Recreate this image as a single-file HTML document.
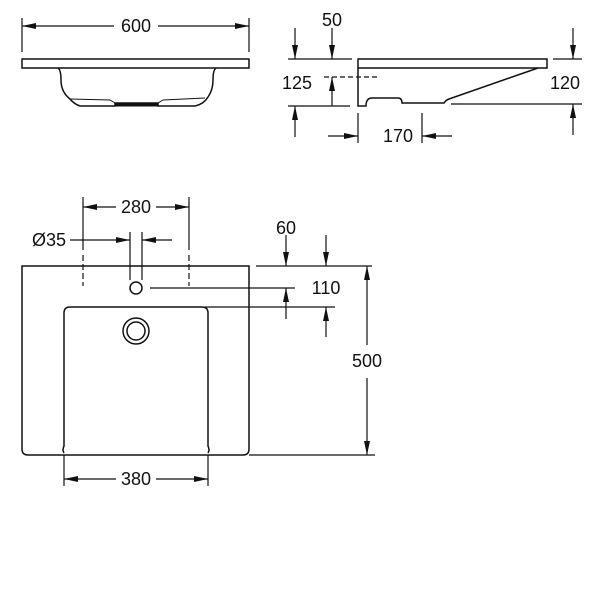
<!DOCTYPE html>
<html><head><style>body{margin:0;background:#fff}svg{display:block}text{font-family:"Liberation Sans",sans-serif;font-size:18px;fill:#111}</style></head><body>
<svg width="600" height="600" viewBox="0 0 600 600" xmlns="http://www.w3.org/2000/svg">
<defs><marker id="a" markerWidth="14" markerHeight="6" refX="14" refY="3" orient="auto" markerUnits="userSpaceOnUse"><path d="M0,0L14,3L0,6z" fill="#111"/></marker></defs>
<g stroke="#111" stroke-width="1.2" fill="none">
<line x1="22" y1="18" x2="22" y2="52"/><line x1="249" y1="18" x2="249" y2="52"/>
<line x1="114" y1="26" x2="22" y2="26" marker-end="url(#a)"/><line x1="158" y1="26" x2="249" y2="26" marker-end="url(#a)"/>
<rect x="22" y="59" width="227" height="9" stroke-width="1.5"/>
<path d="M58,68 Q61,70 61,80 Q61,92 70,99 Q74,104 80,106 L115,106 L115,103 L158,103 L158,106 L195,106 Q204,104 208,97 Q213,90 213,80 Q213,70 216,68" stroke-width="1.5"/>
<path d="M70,99 L110,100 L115,103 M158,103 L163,100 L205,98" stroke-width="1"/>
<line x1="115" y1="105" x2="158" y2="105" stroke-width="3"/>
<rect x="358" y="59" width="189" height="9" stroke-width="1.5"/>
<path d="M358,68 L358,106 L366,106 Q366,98 372,98 L398,98 Q402,98 402,103 L444,103 Q446,100 449,99 L538,68" stroke-width="1.5"/>
<line x1="288" y1="59" x2="352" y2="59"/><line x1="288" y1="106" x2="350" y2="106"/>
<line x1="295" y1="28" x2="295" y2="59" marker-end="url(#a)"/><line x1="332" y1="28" x2="332" y2="59" marker-end="url(#a)"/>
<line x1="332" y1="106" x2="332" y2="77" marker-end="url(#a)"/>
<line x1="324" y1="77" x2="378" y2="77" stroke-dasharray="5,3"/>
<line x1="295" y1="137" x2="295" y2="106" marker-end="url(#a)"/>
<line x1="358" y1="113" x2="358" y2="143"/><line x1="422" y1="113" x2="422" y2="143"/>
<line x1="328" y1="136" x2="358" y2="136" marker-end="url(#a)"/><line x1="452" y1="136" x2="422" y2="136" marker-end="url(#a)"/>
<line x1="553" y1="59" x2="582" y2="59"/><line x1="451" y1="104" x2="582" y2="104"/>
<line x1="573" y1="28" x2="573" y2="59" marker-end="url(#a)"/><line x1="573" y1="135" x2="573" y2="104" marker-end="url(#a)"/>
<path d="M22,266 L249,266 L249,449 Q249,455 243,455 L28,455 Q22,455 22,449 Z" stroke-width="1.5"/>
<path d="M64,453 Q62,450 64,446 L64,313 Q64,307 70,307 L202,307 Q208,307 208,313 L208,446 Q210,450 208,453" stroke-width="1.5"/>
<circle cx="136" cy="331" r="13" stroke-width="1.5"/><circle cx="136" cy="331" r="9" stroke-width="1.5"/>
<circle cx="136" cy="288" r="6" stroke-width="1.5"/>
<line x1="83" y1="255" x2="83" y2="286" stroke-dasharray="6,3"/><line x1="189" y1="255" x2="189" y2="286" stroke-dasharray="6,3"/>
<line x1="83" y1="197" x2="83" y2="250"/><line x1="189" y1="197" x2="189" y2="250"/>
<line x1="116" y1="207" x2="83" y2="207" marker-end="url(#a)"/><line x1="156" y1="207" x2="189" y2="207" marker-end="url(#a)"/>
<line x1="130" y1="232" x2="130" y2="280"/><line x1="142" y1="232" x2="142" y2="280"/>
<line x1="70" y1="240" x2="130" y2="240" marker-end="url(#a)"/><line x1="172" y1="240" x2="142" y2="240" marker-end="url(#a)"/>
<line x1="256" y1="266" x2="372" y2="266"/>
<line x1="286" y1="235" x2="286" y2="266" marker-end="url(#a)"/><line x1="326" y1="235" x2="326" y2="266" marker-end="url(#a)"/>
<line x1="150" y1="288" x2="295" y2="288"/><line x1="205" y1="307" x2="335" y2="307"/>
<line x1="286" y1="319" x2="286" y2="288" marker-end="url(#a)"/><line x1="326" y1="337" x2="326" y2="307" marker-end="url(#a)"/>
<line x1="249" y1="455" x2="375" y2="455"/>
<line x1="367" y1="345" x2="367" y2="266" marker-end="url(#a)"/><line x1="367" y1="378" x2="367" y2="455" marker-end="url(#a)"/>
<line x1="64" y1="455" x2="64" y2="486"/><line x1="208" y1="455" x2="208" y2="486"/>
<line x1="116" y1="479" x2="64" y2="479" marker-end="url(#a)"/><line x1="156" y1="479" x2="208" y2="479" marker-end="url(#a)"/>
</g>
<g text-anchor="middle">
<text x="136" y="32">600</text>
<text x="332" y="26">50</text>
<text x="297" y="89">125</text>
<text x="398" y="142">170</text>
<text x="565" y="89">120</text>
<text x="136" y="213">280</text>
<text x="49" y="246">Ø35</text>
<text x="286" y="234">60</text>
<text x="326" y="294">110</text>
<text x="367" y="367">500</text>
<text x="136" y="485">380</text>
</g>
</svg>
</body></html>
